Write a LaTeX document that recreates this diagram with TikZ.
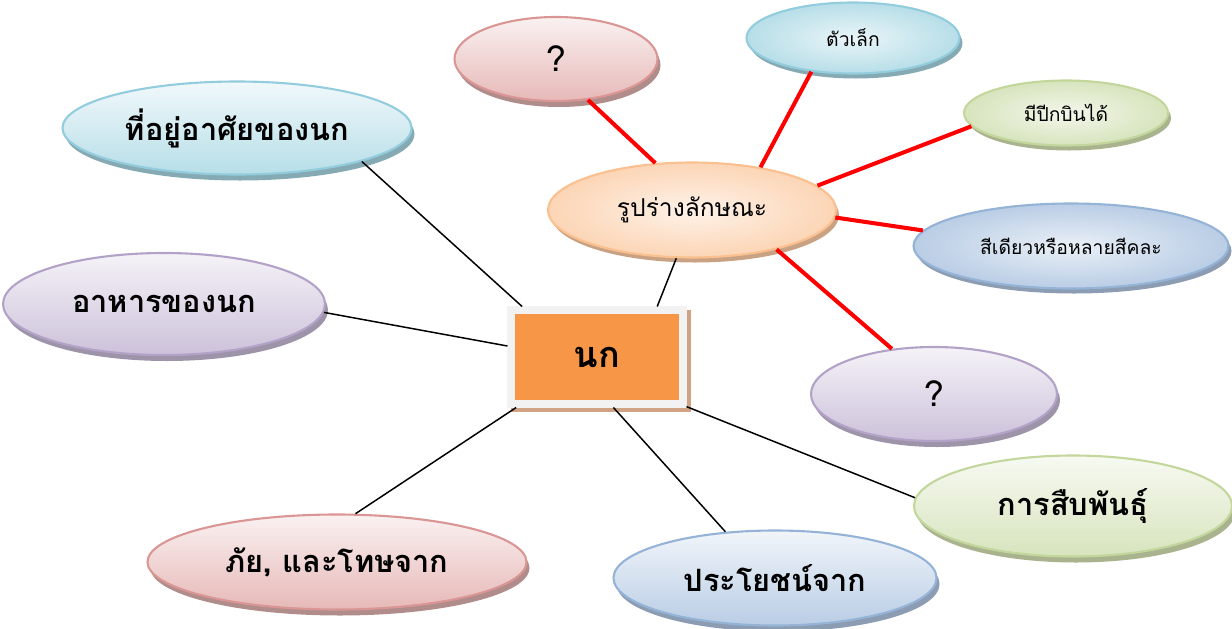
\documentclass[tikz,border=0pt]{standalone}
\usepackage{fontspec}
\newfontfamily\thaifont[Script=Thai]{Loma}
\usetikzlibrary{positioning,shapes.geometric,shadows}

\definecolor{aqualine}{HTML}{93CDDD}
\definecolor{aquafill}{HTML}{B7DEE8}
\definecolor{aquashade}{HTML}{86AAB4}
\definecolor{lilacline}{HTML}{B3A2C7}
\definecolor{lilacfill}{HTML}{CCC1DA}
\definecolor{lilacshade}{HTML}{9D94A9}
\definecolor{roseline}{HTML}{D99694}
\definecolor{rosefill}{HTML}{E6B9B8}
\definecolor{roseshade}{HTML}{B08C8B}
\definecolor{steelline}{HTML}{95B3D7}
\definecolor{steelfill}{HTML}{B9CDE5}
\definecolor{steelshade}{HTML}{8C9DB3}
\definecolor{limeline}{HTML}{C3D69B}
\definecolor{limefill}{HTML}{D7E4BD}
\definecolor{limeshade}{HTML}{A9B48F}
\definecolor{peachline}{HTML}{FAC090}
\definecolor{peachfill}{HTML}{FCD5B5}
\definecolor{peachshade}{HTML}{C9A283}
\definecolor{hubframe}{HTML}{F2F2F2}
\definecolor{hubfill}{HTML}{F79646}
\definecolor{hubshade}{HTML}{CFA383}

\tikzset{
  topic/.style={ellipse, inner sep=0pt, draw=#1line, line width=1.2pt,
    top color=#1fill!20, bottom color=#1fill,
    drop shadow={shadow xshift=0.06cm, shadow yshift=-0.12cm,
      fill=#1shade, opacity=1},
    font=\thaifont\bfseries\fontsize{17.5}{21}\selectfont},
  detail/.style={ellipse, inner sep=0pt, draw=#1line, line width=1.2pt,
    inner color=#1fill!30, outer color=#1fill,
    drop shadow={shadow xshift=0.06cm, shadow yshift=-0.1cm,
      fill=#1shade, opacity=1},
    font=\thaifont\fontsize{11}{13}\selectfont},
  hub/.style={rectangle, draw=hubframe, line width=4pt, fill=hubfill,
    minimum width=3.44cm, minimum height=1.88cm,
    drop shadow={shadow xshift=0.08cm, shadow yshift=-0.08cm,
      fill=hubshade, draw=hubshade, line width=4pt, opacity=1},
    font=\thaifont\bfseries\fontsize{20.5}{24}\selectfont},
  link/.style={black, line width=0.85pt},
  redlink/.style={red, line width=2.3pt},
  quest/.style={font=\thaifont\fontsize{20}{24}\selectfont},
}

\begin{document}
\begin{tikzpicture}[on grid]
   \useasboundingbox (0,0) rectangle (24.64,-12.58);

   % centre
   \node[hub] (bird) at (11.94,-7.14) {นก};

   % main topics round the centre
   \node[topic=aqua, minimum width=6.98cm, minimum height=1.86cm,
      above left=4.58cm and 7.2cm of bird]   (habitat) {ที่อยู่อาศัยของนก};
   \node[topic=lilac, minimum width=6.44cm, minimum height=2.04cm,
      above left=1.06cm and 8.66cm of bird]  (food) {อาหารของนก};
   \node[topic=rose, minimum width=7.58cm, minimum height=1.9cm,
      below left=4.1cm and 5.2cm of bird]    (danger) {ภัย, และโทษจาก};
   \node[topic=steel, minimum width=6.46cm, minimum height=1.9cm,
      below right=4.42cm and 3.56cm of bird] (benefit) {ประโยชน์จาก};
   \node[topic=lime, minimum width=6.36cm, minimum height=2.02cm,
      below right=2.98cm and 9.52cm of bird] (breeding) {การสืบพันธุ์};
   \node[detail=peach, minimum width=5.76cm, minimum height=1.9cm,
      font=\thaifont\fontsize{14}{17}\selectfont,
      above right=2.94cm and 1.9cm of bird]  (shape) {รูปร่างลักษณะ};

   % details of the shape
   \node[topic=rose, quest, minimum width=4.06cm, minimum height=1.68cm,
      above left=3.02cm and 2.72cm of shape]  (askone) {?};
   \node[detail=aqua, minimum width=4.26cm, minimum height=1.42cm,
      above right=3.44cm and 3.22cm of shape] (small) {ตัวเล็ก};
   \node[detail=lime, minimum width=4.08cm, minimum height=1.3cm,
      above right=1.94cm and 7.48cm of shape] (wings) {มีปีกบินได้};
   \node[detail=steel, minimum width=6.3cm, minimum height=1.7cm,
      below right=0.72cm and 7.58cm of shape] (colour) {สีเดียวหรือหลายสีคละ};
   \node[topic=lilac, quest, minimum width=4.92cm, minimum height=1.88cm,
      below right=3.68cm and 4.84cm of shape] (asktwo) {?};

   % links to the centre
   \draw[link] (habitat.-15)  -- (bird.146);
   \draw[link] (food.-3)      -- (bird.173);
   \draw[link] (danger.69)    -- (bird.212);
   \draw[link] (benefit.137)  -- (bird.-72);
   \draw[link] (breeding.177) -- (bird.-29);
   \draw[link] (shape.252)    -- (bird.40);

   % red links from the shape
   \draw[redlink] (shape.128) -- (askone.-52);
   \draw[redlink] (shape.32)  -- (small.219);
   \draw[redlink] (shape.11)  -- (wings.188);
   \draw[redlink] (shape.-3)  -- (colour.174);
   \draw[redlink] (shape.-25) -- (asktwo.133);
\end{tikzpicture}
\end{document}
